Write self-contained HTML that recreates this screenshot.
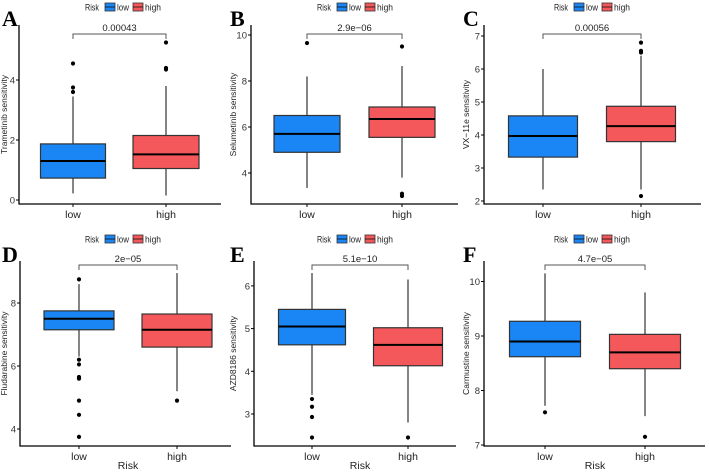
<!DOCTYPE html>
<html><head><meta charset="utf-8"><style>
body{margin:0;background:#fff;}
svg{display:block;font-family:"Liberation Sans",sans-serif;}
</style></head><body>
<svg id="c" width="709" height="472" viewBox="0 0 709 472" xmlns="http://www.w3.org/2000/svg"></svg>
<script>
const panelLetters=["A","B","C","D","E","F"];
const drugTitles=["Trametinib sensitivity","Selumetinib sensitivity","VX\u221211e sensitivity","Fludarabine sensitivity","AZD8186 sensitivity","Carmustine sensitivity"];
const pValues=["0.00043","2.9e\u221206","0.00056","2e\u221205","5.1e\u221210","4.7e\u221205"];
const categories=["low","high"];
const yTicks=[[0,2,4],[4,6,8,10],[2,3,4,5,6,7],[4,6,8],[3,4,5,6],[7,8,9,10]];
// [lowerWhisker,Q1,median,Q3,upperWhisker] for low / high
const lowStats=[[0.22,0.73,1.3,1.87,3.45],[3.35,4.9,5.7,6.5,8.2],[2.35,3.33,3.97,4.58,6.0],[6.3,7.15,7.5,7.75,8.6],[3.45,4.62,5.05,5.45,6.3],[7.72,8.62,8.9,9.27,10.15]];
const highStats=[[0.15,1.05,1.52,2.15,3.8],[3.8,5.55,6.35,6.87,8.65],[2.35,3.8,4.27,4.87,6.4],[5.2,6.6,7.15,7.65,8.95],[2.8,4.13,4.62,5.02,6.15],[7.53,8.4,8.7,9.03,9.8]];
const lowOutliers=[[3.6,3.75,4.55],[9.65],[],[8.75,6.2,6.05,5.65,5.6,4.9,4.45,3.75],[3.35,3.17,2.93,2.45],[7.6]];
const highOutliers=[[4.35,4.4,5.25],[9.5,3.1,3.0],[2.15,6.5,6.55,6.8],[4.9],[2.45],[7.15]];

const L=[
 {ox:0,oy:0,left:19,right:221,bottom:204,v0:0,y0:200,ppu:30,cx:[73,166],bw:[65,66]},
 {ox:236,oy:0,left:251,right:458,bottom:204,v0:4,y0:173,ppu:23,cx:[307,402],bw:[66,66]},
 {ox:469,oy:0,left:484,right:701,bottom:204,v0:2,y0:201,ppu:33,cx:[543,641],bw:[69,69]},
 {ox:0,oy:236,left:20,right:231,bottom:446,v0:4,y0:429,ppu:31.5,cx:[79,177],bw:[70,70]},
 {ox:236,oy:236,left:254,right:456,bottom:446,v0:3,y0:414,ppu:42.7,cx:[312,408],bw:[67,69]},
 {ox:469,oy:236,left:484,right:705,bottom:446,v0:7,y0:445,ppu:54.5,cx:[545,645],bw:[71,71]}
];
const svg=document.getElementById('c');
const NS="http://www.w3.org/2000/svg";
function mk(tag,attrs,parent,text){const e=document.createElementNS(NS,tag);for(const k in attrs)e.setAttribute(k,attrs[k]);if(text!==undefined)e.textContent=text;(parent||svg).appendChild(e);return e;}
const fills=["#1a86f5","#f5585a"];
for(let p=0;p<6;p++){
  const g=L[p];
  const yS=v=>g.y0-(v-g.v0)*g.ppu;
  const grp=mk('g',{});
  
  
  const letter=mk('text',{x:g.ox+(p%3==0?2:-6),y:g.oy+26,'font-family':'Liberation Serif,serif','font-weight':'bold','font-size':22},grp,panelLetters[p]);
  
  
  const lx=g.ox+(p%3==0?85:p%3==1?81:85), ly=g.oy+(p<3?7:3);
  const leg=mk('g',{},grp);
  
  
  mk('text',{x:lx,y:ly+3.5,'font-size':9,fill:'#222',textLength:14,lengthAdjust:'spacingAndGlyphs'},leg,'Risk');
  for(let i=0;i<2;i++){
    const bx=lx+20+i*28;
    const key=mk('rect',{x:bx,y:ly-4,width:10,height:8,fill:fills[i],stroke:'#333','stroke-width':0.8},leg);
    
    
    mk('line',{x1:bx,x2:bx+10,y1:ly,y2:ly,stroke:'#111','stroke-width':0.8},leg);
    mk('text',{x:bx+12,y:ly+3.5,'font-size':9,fill:'#222',textLength:i?16:12,lengthAdjust:'spacingAndGlyphs'},leg,categories[i]);
  }
  const ax=mk('path',{d:`M${g.left} ${g.oy+25}V${g.bottom}H${g.right}`,fill:'none',stroke:'#000','stroke-width':1.3},grp);
  
  
  yTicks[p].forEach(t=>{
    const y=yS(t);
    mk('line',{x1:g.left-3,x2:g.left,y1:y,y2:y,stroke:'#000'},grp);
    const tl=mk('text',{x:g.left-4,y:y+3.5,'font-size':9.5,'text-anchor':'end',fill:'#333'},grp,String(t));
    
    
  });
  const ym=(g.oy+25+g.bottom)/2;
  const yt=mk('text',{x:0,y:0,'font-size':8.5,'text-anchor':'middle',transform:`translate(${g.ox+(p%3==0?7:0)} ${ym}) rotate(-90)`,fill:'#222'},grp,drugTitles[p]);
  
  
  const stats=[lowStats[p],highStats[p]], outs=[lowOutliers[p],highOutliers[p]];
  for(let i=0;i<2;i++){
    const cx=g.cx[i], w=g.bw[i], s=stats[i];
    mk('line',{x1:cx,x2:cx,y1:g.bottom,y2:g.bottom+3,stroke:'#000'},grp);
    const xl=mk('text',{x:cx,y:g.bottom+14,'font-size':10.5,'text-anchor':'middle',fill:'#222'},grp,categories[i]);
    
    
    const wh=mk('line',{x1:cx,x2:cx,y1:yS(s[0]),y2:yS(s[4]),stroke:'#333','stroke-width':1.2},grp);
    
    
    const bx=mk('rect',{x:cx-w/2,y:yS(s[3]),width:w,height:yS(s[1])-yS(s[3]),fill:fills[i],stroke:'#333','stroke-width':1.2},grp);
    
    
    const md=mk('line',{x1:cx-w/2,x2:cx+w/2,y1:yS(s[2]),y2:yS(s[2]),stroke:'#000','stroke-width':2},grp);
    
    
    outs[i].forEach(v=>{
      const o=mk('circle',{cx:cx,cy:yS(v),r:2.1,fill:'#000'},grp);
      
      
    });
  }
  const by=g.oy+(p<3?34:29);
  const br=mk('path',{d:`M${g.cx[0]} ${by+5}V${by}H${g.cx[1]}V${by+5}`,fill:'none',stroke:'#555','stroke-width':1},grp);
  
  
  const pv=mk('text',{x:(g.cx[0]+g.cx[1])/2,y:by-3,'font-size':9.5,'text-anchor':'middle',fill:'#222'},grp,pValues[p]);
  
  
  if(p>=3){
    const xt=mk('text',{x:(g.cx[0]+g.cx[1])/2,y:469,'font-size':10.5,'text-anchor':'middle',fill:'#222'},grp,'Risk');
    
    
  }
}
</script>
</body></html>
